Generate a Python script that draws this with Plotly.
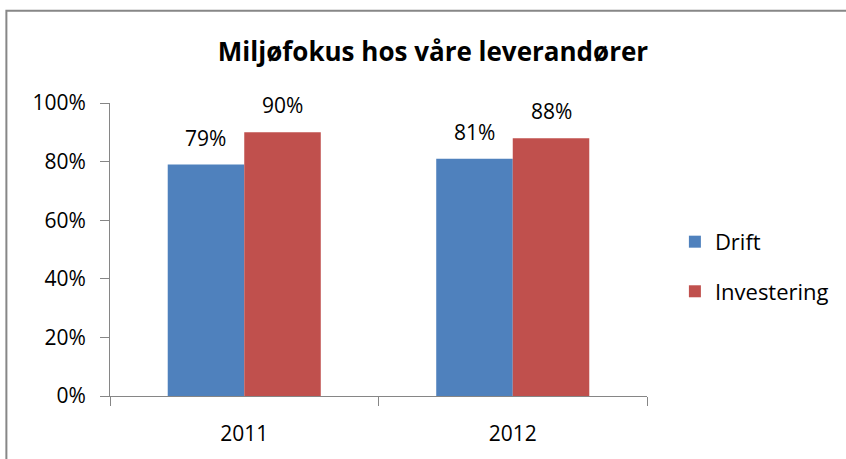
import plotly.graph_objects as go

# Survey results per year
years = ["2011", "2012"]
drift = [0.79, 0.81]
investering = [0.90, 0.88]
series_names = ["Drift", "Investering"]
colors = ["#4F81BD", "#C0504D"]
y_ticks = [0, 0.2, 0.4, 0.6, 0.8, 1.0]
y_tick_labels = ["0%", "20%", "40%", "60%", "80%", "100%"]

FONT = "Open Sans, Calibri, sans-serif"
W, H = 846, 459
L, R, T, B = 110, 197, 103, 61

fig = go.Figure()
for name, vals, col in zip(series_names, [drift, investering], colors):
    fig.add_trace(go.Bar(name=name, x=years, y=vals, legendgroup=name,
                         marker=dict(color=col, line=dict(width=0))))

# value labels above each bar (x given as category index)
annotations = []
for i, vals in enumerate([drift, investering]):
    shift = -38.5 if i == 0 else 38.5
    for k, v in enumerate(vals):
        annotations.append(dict(
            x=k, y=v, xref="x", yref="y", text=f"{round(v*100)}%",
            showarrow=False, yanchor="bottom", xshift=shift, yshift=11,
            font=dict(family=FONT, size=21, color="#000000"),
        ))

# chart border (top and left edges visible)
pw, ph = W - L - R, H - T - B
def px_x(p):
    return (p - L) / pw
def px_y(p):
    return (H - B - p) / ph

fig.add_shape(type="rect", xref="paper", yref="paper",
              x0=px_x(6), x1=px_x(W + 20), y0=px_y(H + 20), y1=px_y(10),
              line=dict(color="#878787", width=2), fillcolor="rgba(0,0,0,0)", layer="below")

fig.update_layout(
    width=W, height=H,
    margin=dict(l=L, r=R, t=T, b=B),
    paper_bgcolor="white", plot_bgcolor="white",
    barmode="group", bargap=0.43, bargroupgap=0,
    title=dict(text="<b>Miljøfokus hos våre leverandører</b>", x=433 / W, xanchor="center",
               xref="container", y=1 - 52 / H, yanchor="middle",
               font=dict(family=FONT, size=26, color="#000000")),
    legend=dict(x=px_x(677), y=px_y(268), xanchor="left", yanchor="middle",
                font=dict(family=FONT, size=22, color="#000000"),
                tracegroupgap=18, itemsizing="constant", bgcolor="rgba(0,0,0,0)"),
    annotations=annotations,
    showlegend=True,
)
fig.update_xaxes(type="category", range=[-0.5, 1.5], autorange=False, showline=True,
                 linecolor="#868686", linewidth=1, ticks="outside", tickson="boundaries",
                 ticklen=9, tickcolor="#868686", showgrid=False, tickangle=0, zeroline=False,
                 ticklabelstandoff=19,
                 tickfont=dict(family=FONT, size=21, color="#000000"))
fig.update_yaxes(range=[0, 1], autorange=False, tickvals=y_ticks, ticktext=y_tick_labels,
                 showline=True, linecolor="#868686", linewidth=1, ticks="outside", ticklen=9,
                 tickcolor="#868686", showgrid=False, zeroline=False, ticklabelstandoff=10,
                 tickfont=dict(family=FONT, size=21, color="#000000"))

fig.write_html("out.html")
